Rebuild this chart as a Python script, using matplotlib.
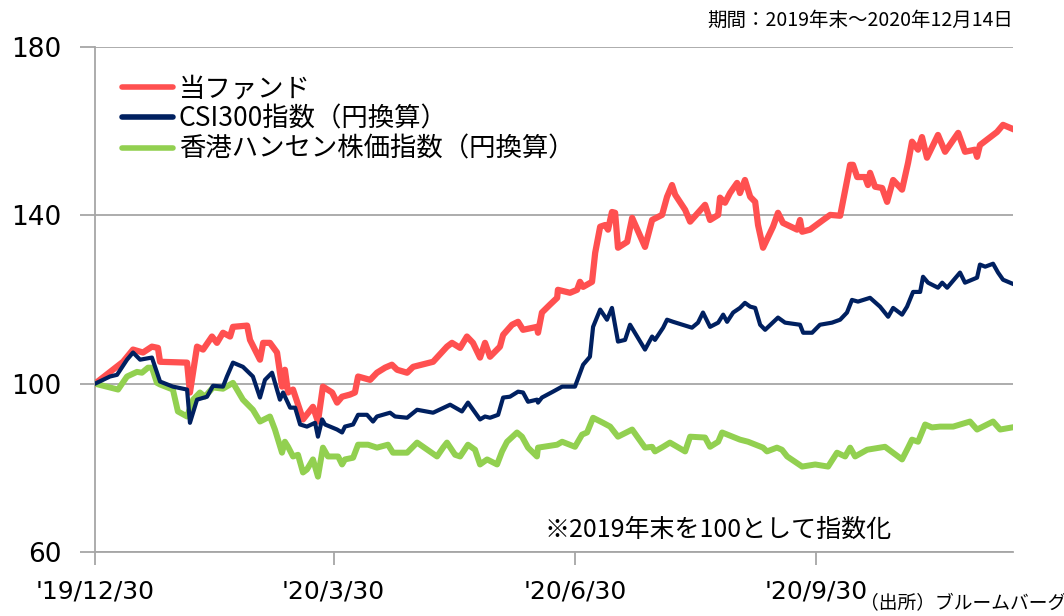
import numpy as np
import matplotlib
matplotlib.use("Agg")
import matplotlib.pyplot as plt

# days since 2019-12-30, index (2019 year end = 100)
fund_days = [0, 10.7, 14.5, 18.3, 21.7, 24.0, 24.8, 35.1, 36.2, 38.9, 41.2, 44.6, 46.5, 48.8, 51.5,
             52.6, 58.0, 59.1, 62.9, 64.1, 66.7, 69.4, 71.3, 72.4, 73.6, 75.5, 79.3, 83.1, 85.0, 86.9,
             90.4, 92.3, 94.2, 97.2, 99.1, 100.3, 104.9, 107.5, 110.6, 113.2, 115.2, 119.0, 121.3,
             128.9, 134.2, 136.1, 139.2, 141.8, 144.1, 146.8, 148.7, 150.6, 154.4, 155.6, 159.0,
             161.3, 163.2, 168.5, 168.9, 170.4, 173.5, 176.2, 176.5, 181.1, 183.8, 184.9, 186.1,
             189.5, 190.7, 192.6, 194.5, 195.6, 197.1, 198.3, 199.4, 202.9, 204.8, 209.7, 212.4,
             216.2, 218.1, 220.0, 221.2, 225.0, 226.9, 232.6, 234.5, 237.6, 238.3, 240.2, 242.1,
             244.8, 245.9, 247.8, 249.8, 251.7, 252.8, 254.7, 258.5, 260.4, 262.3, 267.7, 268.8,
             269.6, 272.6, 277.6, 280.3, 284.1, 287.9, 289.0, 290.6, 293.6, 294.7, 295.5, 297.4,
             300.1, 302.0, 304.3, 307.7, 310.0, 311.5, 313.8, 315.3, 317.2, 321.4, 324.1, 329.1,
             331.7, 335.5, 336.3, 337.4, 343.9, 346.2, 350.0]
fund = [100, 105.2, 108.1, 107.4, 108.8, 108.5, 105.2, 105.0, 97.9, 108.8, 108.1, 111.2, 109.7,
        112.1, 111.2, 113.5, 113.8, 110.4, 105.7, 109.7, 109.7, 107.4, 99.3, 103.3, 97.9, 98.6,
        91.5, 94.5, 91.0, 99.3, 97.9, 95.5, 96.9, 97.4, 97.9, 101.7, 100.9, 102.6, 103.8, 104.5,
        103.3, 102.6, 104.0, 105.2, 108.8, 109.7, 108.5, 111.2, 109.7, 106.2, 109.7, 106.4, 108.8,
        111.6, 114.0, 114.7, 112.8, 113.5, 112.1, 116.9, 118.8, 120.4, 122.3, 121.6, 122.3, 124.2,
        123.0, 124.2, 131.1, 137.3, 137.7, 136.6, 140.8, 140.6, 132.3, 133.7, 139.4, 132.5, 138.9,
        140.1, 144.4, 147.2, 144.9, 141.3, 138.5, 142.5, 138.9, 140.1, 144.2, 143.0, 145.3, 147.7,
        145.3, 148.4, 144.4, 143.2, 137.7, 132.3, 137.3, 140.6, 138.2, 136.6, 138.9, 136.1, 136.6,
        138.9, 140.1, 139.9, 152.0, 152.0, 149.1, 149.1, 147.2, 150.1, 146.8, 146.5, 143.2, 148.4,
        146.1, 152.5, 157.5, 155.6, 158.6, 153.7, 159.1, 155.1, 159.6, 155.1, 155.6, 153.9, 156.7,
        159.8, 161.5, 160.5]

csi_days = [0, 5.7, 8.4, 12.2, 14.5, 17.2, 21.7, 22.9, 24.8, 29.7, 35.1, 36.2, 38.9, 42.7, 45.0,
            48.8, 50.3, 52.6, 56.4, 60.2, 62.9, 64.8, 67.5, 70.5, 71.7, 74.4, 76.3, 78.2, 80.8,
            83.9, 85.0, 86.6, 87.7, 92.3, 94.2, 95.3, 98.4, 100.3, 103.7, 106.0, 107.5, 112.5,
            114.4, 119.0, 122.8, 128.9, 135.4, 139.9, 142.2, 146.8, 148.7, 150.6, 153.7, 155.6,
            158.2, 161.3, 163.2, 165.1, 168.5, 168.9, 170.4, 174.6, 178.1, 183.0, 186.1, 188.7,
            189.9, 192.6, 195.2, 197.1, 199.4, 202.1, 204.0, 209.7, 212.4, 213.5, 216.6, 218.1,
            220.4, 227.6, 229.9, 231.8, 234.5, 237.6, 239.5, 241.0, 243.3, 245.9, 247.8, 249.8,
            251.7, 253.6, 255.5, 260.4, 263.1, 268.8, 270.0, 273.4, 276.4, 281.0, 284.1, 286.7,
            288.6, 290.9, 295.5, 299.3, 302.4, 304.3, 307.7, 309.6, 311.9, 314.6, 315.7, 317.6,
            321.4, 323.0, 324.9, 329.8, 331.7, 336.3, 337.4, 339.4, 342.4, 344.3, 346.2, 350.0]
csi300 = [100, 101.7, 102.1, 105.7, 107.4, 105.7, 106.2, 104.0, 100.5, 99.3, 98.6, 90.7, 96.2,
          96.9, 99.5, 99.3, 101.7, 105.0, 104.0, 101.7, 96.7, 100.9, 102.6, 96.2, 97.9, 94.3,
          94.3, 90.3, 89.8, 90.7, 87.4, 91.5, 90.3, 89.1, 88.4, 89.8, 90.3, 92.6, 92.6, 91.0,
          92.2, 93.1, 92.2, 91.9, 93.8, 93.1, 95.0, 93.4, 95.5, 91.5, 92.2, 91.9, 92.6, 96.7,
          96.9, 98.1, 97.9, 95.7, 96.2, 95.5, 96.7, 98.1, 99.3, 99.3, 104.5, 106.4, 113.5, 117.6,
          115.2, 118.0, 110.0, 110.4, 114.0, 108.1, 111.2, 110.4, 113.3, 115.2, 114.7, 113.3,
          114.5, 116.9, 113.5, 114.5, 116.4, 114.7, 116.9, 118.0, 119.2, 118.3, 118.0, 114.0,
          112.8, 115.7, 114.5, 114.0, 112.1, 112.1, 114.0, 114.5, 115.2, 116.9, 119.9, 119.5,
          120.4, 118.3, 115.9, 118.0, 116.4, 118.3, 121.8, 121.8, 125.4, 124.0, 122.8, 124.0,
          122.8, 126.4, 124.0, 125.2, 128.3, 127.8, 128.5, 126.4, 124.7, 123.7]

hsi_days = [0, 8.8, 12.2, 16.0, 17.9, 20.2, 21.7, 23.6, 24.8, 29.7, 31.6, 35.1, 37.4, 40.0, 41.9,
            45.0, 48.8, 52.6, 56.4, 60.2, 62.9, 66.7, 68.6, 71.3, 72.4, 73.6, 75.5, 77.4, 79.3,
            80.8, 83.1, 85.0, 86.9, 88.8, 92.7, 94.2, 95.3, 98.4, 100.3, 104.1, 107.5, 111.7,
            113.6, 119.0, 122.8, 130.4, 132.7, 134.2, 137.3, 139.2, 142.2, 144.9, 146.8, 149.5,
            153.3, 155.2, 157.1, 160.9, 162.8, 165.1, 168.5, 168.9, 176.2, 178.1, 183.0, 185.7,
            187.6, 189.9, 193.7, 196.4, 199.4, 204.8, 209.7, 212.4, 213.5, 216.6, 219.2, 225.0,
            226.9, 232.6, 234.5, 237.6, 239.1, 245.9, 249.0, 254.7, 256.2, 260.0, 261.9, 263.9,
            269.6, 274.6, 279.5, 282.9, 286.0, 287.9, 289.8, 294.4, 301.2, 307.7, 310.0, 311.5,
            313.8, 316.5, 319.1, 322.2, 327.2, 333.6, 336.3, 342.4, 345.1, 349.6]
hsi = [100, 98.6, 101.7, 102.8, 102.6, 103.8, 103.8, 100.2, 99.8, 98.6, 93.4, 92.2, 96.2, 97.9,
       96.9, 99.1, 98.8, 100.2, 96.2, 93.8, 91.0, 92.2, 89.1, 83.6, 86.2, 85.0, 82.7, 83.1, 78.9,
       79.6, 82.0, 77.9, 84.8, 82.7, 82.7, 80.8, 82.0, 82.4, 85.5, 85.5, 84.8, 85.5, 83.6, 83.6,
       86.0, 82.7, 84.8, 86.0, 83.1, 82.7, 85.5, 84.3, 80.8, 82.0, 80.8, 83.9, 86.2, 88.4, 87.4,
       84.8, 82.7, 84.8, 85.5, 86.2, 85.0, 87.9, 88.4, 91.9, 90.7, 89.8, 87.4, 89.1, 84.8, 85.0,
       83.9, 85.0, 86.0, 83.9, 87.4, 87.2, 85.0, 86.2, 88.4, 86.7, 86.2, 84.8, 83.9, 84.8, 84.3,
       82.7, 80.3, 80.8, 80.3, 83.6, 82.7, 84.8, 82.7, 84.3, 85.0, 82.0, 84.8, 86.7, 86.2, 90.3,
       89.6, 89.8, 89.8, 91.0, 89.1, 91.0, 89.1, 89.6]

tick_days = [0, 91, 183, 275]
tick_labels = ["'19/12/30", "'20/3/30", "'20/6/30", "'20/9/30"]
y_ticks = [60, 100, 140, 180]

series_labels = ["当ファンド", "CSI300指数（円換算）", "香港ハンセン株価指数（円換算）"]
RED, NAVY, GREEN = "#FF5050", "#002060", "#92D050"
GRID = "#A6A6A6"
jp = ["Noto Sans CJK JP", "DejaVu Sans"]

fig = plt.figure(figsize=(10.64, 6.16), dpi=100)
ax = fig.add_axes([95 / 1064, 64 / 616, 918 / 1064, 505 / 616])

l1, = ax.plot(fund_days, fund, color=RED, lw=4.5, zorder=3, solid_joinstyle="round")
l2, = ax.plot(csi_days, csi300, color=NAVY, lw=3.0, zorder=5, solid_joinstyle="round")
l3, = ax.plot(hsi_days, hsi, color=GREEN, lw=4.3, zorder=4, solid_joinstyle="round")

ax.set_xlim(0, 350)
ax.set_ylim(60, 180)
ax.set_yticks(y_ticks)
ax.set_xticks(tick_days)
ax.set_xticklabels(tick_labels)
ax.grid(axis="y", color=GRID, lw=1.3)
for s in ["top", "right"]:
    ax.spines[s].set_visible(False)
for s in ["left", "bottom"]:
    ax.spines[s].set_color(GRID)
    ax.spines[s].set_linewidth(1.3)
ax.tick_params(axis="y", length=11, width=1.3, color=GRID, labelsize=19, pad=13)
ax.tick_params(axis="x", length=9, width=1.3, color=GRID, labelsize=18, pad=11)

leg = ax.legend([l1, l2, l3], series_labels, loc="upper left", bbox_to_anchor=(0.012, 0.975),
                frameon=False, prop={"family": jp, "size": 19}, handlelength=1.95,
                handletextpad=0.2, labelspacing=0.12, borderaxespad=0.2)
for h in leg.get_lines():
    h.set_linewidth(4)
    h.set_solid_capstyle("round")

fig.text(1013 / 1064, 1 - 20 / 616, "期間：2019年末～2020年12月14日", ha="right", va="center",
         fontsize=14, family=jp)
fig.text(545 / 1064, 1 - 530 / 616, "※2019年末を100として指数化", ha="left", va="center",
         fontsize=18, family=jp)
fig.text(1066 / 1064, 1 - 604 / 616, "（出所）ブルームバーグ", ha="right", va="center",
         fontsize=13.5, family=jp)

fig.savefig("out.png", dpi=100)
